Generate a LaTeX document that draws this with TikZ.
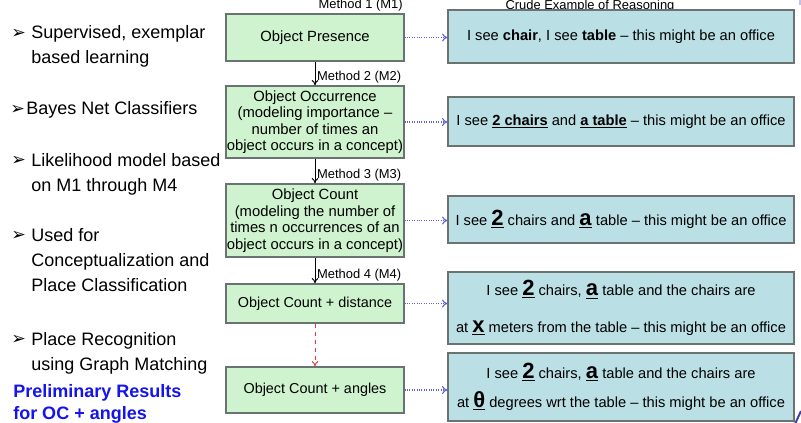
\documentclass[tikz,border=0pt]{standalone}
\usepackage{fontspec}
\setmainfont{Liberation Sans}
\newfontfamily\symfont{DejaVu Sans}
\usetikzlibrary{arrows.meta}

\definecolor{boxgreen}{RGB}{206,243,206}
\definecolor{boxblue}{RGB}{186,223,228}
\definecolor{boxline}{RGB}{105,115,113}
\definecolor{linkblue}{RGB}{95,95,225}
\definecolor{dashred}{RGB}{230,60,60}
\definecolor{noteblue}{RGB}{20,20,235}

\newcommand{\bigul}[1]{\underline{\textbf{\fontsize{16.5}{16.5}\selectfont #1}}}

\tikzset{
  method/.style={draw=boxline, line width=0.9pt, fill=boxgreen, minimum width=133.5pt,
    inner sep=0pt, align=center, font=\fontsize{11.1}{12.4}\selectfont},
  reason/.style={draw=boxline, line width=0.9pt, fill=boxblue, minimum width=259.5pt,
    inner sep=0pt, align=center, font=\fontsize{11}{13}\selectfont},
  mlabel/.style={font=\fontsize{9.7}{10}\selectfont, inner sep=1.2pt},
  flow/.style={-{To[length=4pt,width=5pt]}, line width=0.7pt},
  link/.style={-{To[length=4pt,width=6pt]}, linkblue, densely dotted, line width=0.8pt},
  item/.style={align=left, inner sep=0pt, anchor=north west, font=\fontsize{13.5}{18.75}\selectfont},
  bul/.style={inner sep=0pt, anchor=base west, font=\symfont\fontsize{13}{13}\selectfont}
}

\begin{document}
\begin{tikzpicture}[x=0.75pt, y=-0.75pt]

\useasboundingbox (0,0) rectangle (801,423);

\node[bul] (bul-1) at (11,38.5) {➢};
\node[item] (supervised) at (31,25.5) {Supervised, exemplar\\based learning};
\node[bul] (bul-2) at (10,114.5) {➢};
\node[item] (bayes) at (26,101.5) {Bayes Net Classifiers};
\node[bul] (bul-3) at (11,166) {➢};
\node[item] (likelihood) at (31,153) {Likelihood model based\\on M1 through M4};
\node[bul] (bul-4) at (11,241) {➢};
\node[item] (used) at (31,228) {Used for\\Conceptualization and\\Place Classification};
\node[bul] (bul-5) at (11,345) {➢};
\node[item] (recognition) at (31,332) {Place Recognition\\using Graph Matching};
\node[item, text=noteblue, font=\bfseries\fontsize{13.5}{16.5}\selectfont] (prelim) at (13,384.5)
{Preliminary Results\\for OC + angles};

\node[method, minimum height=35.25pt, font=\fontsize{11.1}{12}\selectfont] (presence) at (315,37.5)
{Object Presence};
\node[method, minimum height=54pt] (occurrence) at (315,122)
{Object Occurrence\\(modeling importance --\\number of times an\\object occurs in a concept)};
\node[method, minimum height=54.75pt] (count) at (315,220.5)
{Object Count\\(modeling the number of\\times n occurrences of an\\object occurs in a concept)};
\node[method, minimum height=29.25pt, font=\fontsize{10.8}{12}\selectfont] (distance) at (315,303.5)
{Object Count + distance};
\node[method, minimum height=34.5pt, font=\fontsize{10.8}{12}\selectfont] (angles) at (315,390)
{Object Count + angles};

\node[mlabel, anchor=south east] (m1) at (presence.north east) {Method 1 (M1)};
\node[mlabel, anchor=base] (crude) at (590,10) {Crude Example of Reasoning};

\node[reason, minimum height=39.75pt] (ex-presence) at (621,36.5)
{I see \textbf{chair}, I see \textbf{table} -- this might be an office};
\node[reason, minimum height=36.75pt] (ex-occurrence) at (621,121.5)
{I see \underline{\textbf{2 chairs}} and \underline{\textbf{a table}} -- this might be an office};
\node[reason, minimum height=35.25pt] (ex-count) at (621,219.5)
{I see \bigul{2} chairs and \bigul{a} table -- this might be an office};
\node[reason, minimum height=54pt, font=\fontsize{11}{27.5}\selectfont] (ex-distance) at (621,308)
{I see \bigul{2} chairs, \bigul{a} table and the chairs are\\at \bigul{x} meters from the table -- this might be an office};
\node[reason, minimum height=51pt, font=\fontsize{11}{21.75}\selectfont] (ex-angles) at (621,387)
{I see \bigul{2} chairs, \bigul{a} table and the chairs are\\at \bigul{θ} degrees wrt the table -- this might be an office};

\draw[flow] (presence.south) -- (occurrence.north) node[mlabel, pos=1, anchor=south west] {Method 2 (M2)};
\draw[flow] (occurrence.south) -- (count.north) node[mlabel, pos=1, anchor=south west] {Method 3 (M3)};
\draw[flow] (count.south) -- (distance.north) node[mlabel, pos=1, anchor=south west] {Method 4 (M4)};
\draw[flow, dashred, dashed] (distance.south) -- (angles.north);

\draw[link] (presence.east) -- (presence.east -| ex-presence.west);
\draw[link] (occurrence.east) -- (occurrence.east -| ex-occurrence.west);
\draw[link] (count.east) -- (count.east -| ex-count.west);
\draw[link] (distance.east) -- (distance.east -| ex-distance.west);
\draw[link] (angles.east) -- (angles.east -| ex-angles.west);

\draw[linkblue!70!black, line width=1.5pt] (795,424) -- (801,411);
\draw[linkblue!40, line width=1.5pt] (799.5,0) -- (799.5,5);

\end{tikzpicture}
\end{document}
